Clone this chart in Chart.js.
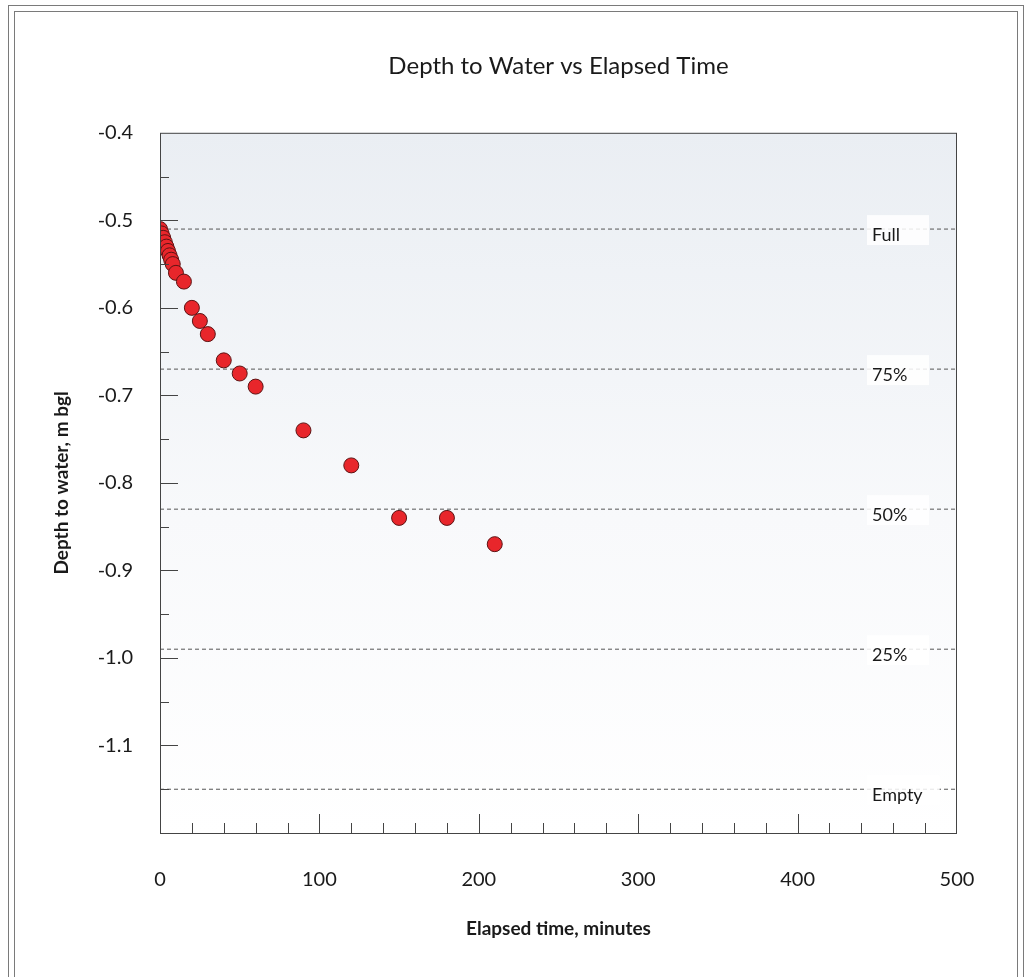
<!DOCTYPE html>
<html>
<head>
<meta charset="utf-8">
<script src="https://cdn.jsdelivr.net/npm/chart.js@4.4.1/dist/chart.umd.min.js"></script>
<style>
    html, body { margin: 0; padding: 0; background: #fff; overflow: hidden; }
    #wrap { position: relative; width: 1028px; height: 977px; }
    .frame { position: absolute; border: 1px solid #7a7a7a; pointer-events: none; }
    #outer { left: 8px; top: 5px; width: 1014px; height: 990px; }
    #inner { left: 14px; top: 11px; width: 1002px; height: 990px; }
</style>
</head>
<body>
<div id="wrap">
    <canvas id="grafico" width="1028" height="977"></canvas>
    <div class="frame" id="outer"></div>
    <div class="frame" id="inner"></div>
</div>
<script>
// tiempo transcurrido (min) y profundidad al agua (m bgl)
const tiempos = [0, 1, 2, 3, 4, 5, 6, 7, 8, 10, 15, 20, 25, 30, 40, 50, 60, 90, 120, 150, 180, 210];
const profundidades = [-0.51, -0.515, -0.52, -0.525, -0.53, -0.535, -0.54, -0.545, -0.55, -0.56, -0.57,
    -0.60, -0.615, -0.63, -0.66, -0.675, -0.69, -0.74, -0.78, -0.84, -0.84, -0.87];

// niveles de referencia
const niveles = [-0.51, -0.67, -0.83, -0.99, -1.15];
const etiquetasNiveles = ['Full', '75%', '50%', '25%', 'Empty'];

// ticks
const xTicks = [0, 100, 200, 300, 400, 500];
const yTicks = [-0.4, -0.5, -0.6, -0.7, -0.8, -0.9, -1.0, -1.1, -1.2];
const yTickLabels = ['-0.4', '-0.5', '-0.6', '-0.7', '-0.8', '-0.9', '-1.0', '-1.1', ''];

const fuente = "Lato, 'Open Sans', sans-serif";

const fondoPlugin = {
    id: 'fondo',
    beforeDatasetsDraw(chart) {
        const { ctx, chartArea: a } = chart;
        const g = ctx.createLinearGradient(0, a.top, 0, a.bottom);
        g.addColorStop(0, '#eaeef3');
        g.addColorStop(0.55, '#f8f9fb');
        g.addColorStop(1, '#ffffff');
        ctx.save();
        ctx.fillStyle = g;
        ctx.fillRect(a.left, a.top, a.right - a.left, a.bottom - a.top);
        ctx.restore();
    }
};

const etiquetasPlugin = {
    id: 'etiquetasNiveles',
    afterDatasetsDraw(chart) {
        const { ctx } = chart;
        const y = chart.scales.y;
        const x0 = 872;
        ctx.save();
        ctx.font = '18px ' + fuente;
        ctx.textBaseline = 'middle';
        ctx.textAlign = 'left';
        niveles.forEach((v, i) => {
            const py = y.getPixelForValue(v);
            const w = ctx.measureText(etiquetasNiveles[i]).width;
            ctx.fillStyle = 'rgba(255,255,255,0.85)';
            ctx.fillRect(x0 - 5, py - 14, Math.max(62, w + 22), 30);
            ctx.fillStyle = '#1a1a1a';
            ctx.fillText(etiquetasNiveles[i], x0, py + 6);
        });
        ctx.restore();
    }
};

const marcoPlugin = {
    id: 'marco',
    afterDraw(chart) {
        const { ctx, chartArea: a } = chart;
        const xs = chart.scales.x, ys = chart.scales.y;
        ctx.save();
        ctx.strokeStyle = '#444';
        ctx.lineWidth = 1;
        ctx.strokeRect(a.left + 0.5, a.top + 0.5, a.right - a.left - 1, a.bottom - a.top);
        ctx.beginPath();
        for (let v = 20; v < 500; v += 20) {
            const px = Math.round(xs.getPixelForValue(v)) + 0.5;
            const len = v % 100 === 0 ? 19 : 10;
            ctx.moveTo(px, a.bottom);
            ctx.lineTo(px, a.bottom - len);
        }
        for (let k = 1; k < 16; k++) {
            const v = -0.4 - k * 0.05;
            const py = Math.round(ys.getPixelForValue(v)) + 0.5;
            const len = k % 2 === 0 ? 18 : 9;
            ctx.moveTo(a.left, py);
            ctx.lineTo(a.left + len, py);
        }
        ctx.stroke();
        ctx.restore();
    }
};

const datasetsNiveles = niveles.map(v => ({
    type: 'line',
    data: [{ x: 0, y: v }, { x: 500, y: v }],
    borderColor: '#555',
    borderWidth: 1,
    borderDash: [4, 3],
    pointRadius: 0,
    fill: false
}));

new Chart(document.getElementById('grafico'), {
    type: 'scatter',
    data: {
        datasets: [{
            label: 'Depth to water',
            data: tiempos.map((t, i) => ({ x: t, y: profundidades[i] })),
            backgroundColor: '#e8262b',
            borderColor: '#5c1414',
            borderWidth: 1,
            pointRadius: 7.5,
            pointHoverRadius: 7.5
        }, ...datasetsNiveles]
    },
    options: {
        responsive: false,
        animation: false,
        layout: { padding: { left: 0, right: 71, top: 0, bottom: 0 } },
        plugins: {
            legend: { display: false },
            tooltip: { enabled: false },
            title: {
                display: true,
                fullSize: false,
                text: 'Depth to Water vs Elapsed Time',
                color: '#1a1a1a',
                font: { family: fuente, size: 24, weight: 'normal' },
                padding: { top: 52, bottom: 52 }
            }
        },
        scales: {
            x: {
                type: 'linear',
                min: 0,
                max: 500,
                afterBuildTicks: s => { s.ticks = xTicks.map(v => ({ value: v })); },
                afterFit: s => { s.height = 144; },
                grid: { display: false, drawTicks: false },
                border: { display: false },
                ticks: {
                    padding: 35,
                    color: '#1a1a1a',
                    font: { family: fuente, size: 20 },
                    callback: v => String(v)
                },
                title: {
                    display: true,
                    text: 'Elapsed time, minutes',
                    color: '#1a1a1a',
                    font: { family: fuente, size: 19, weight: 'bold' },
                    padding: 37
                }
            },
            y: {
                type: 'linear',
                min: -1.2,
                max: -0.4,
                afterBuildTicks: s => { s.ticks = yTicks.map(v => ({ value: v })); },
                afterFit: s => { s.width = 160; },
                grid: { display: false, drawTicks: false },
                border: { display: false },
                ticks: {
                    padding: 27,
                    color: '#1a1a1a',
                    font: { family: fuente, size: 20 },
                    callback: (v, i) => yTickLabels[i]
                },
                title: {
                    display: true,
                    text: 'Depth to water, m bgl',
                    color: '#1a1a1a',
                    font: { family: fuente, size: 19, weight: 'bold' },
                    padding: 50
                }
            }
        }
    },
    plugins: [fondoPlugin, etiquetasPlugin, marcoPlugin]
});
</script>
</body>
</html>
